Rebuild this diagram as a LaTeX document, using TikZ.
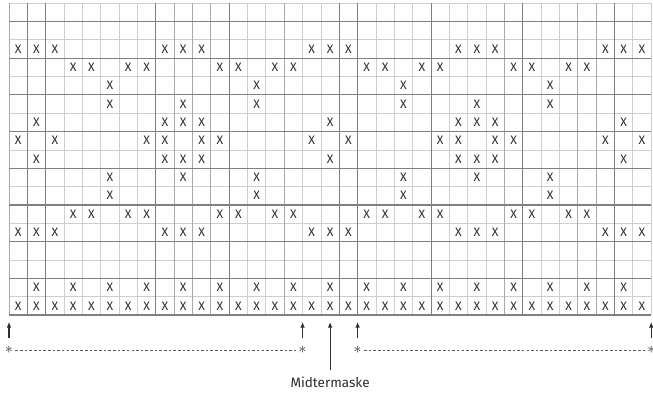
\documentclass[tikz,border=0pt]{standalone}
\usepackage{fontspec}
\setmainfont{Fira Sans}
\usepackage{tikz}
\usetikzlibrary{arrows.meta}
\definecolor{inkgray}{HTML}{2E2E2E}
\definecolor{rulegray}{HTML}{808080}
\definecolor{softgray}{HTML}{A8A8A8}
\definecolor{faintgray}{HTML}{CECECE}

\begin{document}
\begin{tikzpicture}[x=0.5cm,y=0.5cm,font=\small,
    stitch/.style={inner sep=0pt,text=inkgray,font=\fontsize{9.5}{9.5}\selectfont},
    minorline/.style={faintgray,line width=0.6pt},
    midline/.style={softgray,line width=0.6pt},
    majorline/.style={rulegray,line width=0.9pt},
    starmark/.style={inner sep=0pt,text=inkgray,font=\large},
    marker/.style={-{Latex[length=4.5pt,width=3.6pt]},line width=0.9pt,inkgray},
    repeatline/.style={inkgray!80,line width=0.6pt,dash pattern=on 2pt off 1.6pt}]
  \useasboundingbox (-0.49,-4.41) rectangle (35.1,17.17);
  % grid
  \foreach \y in {1,3,...,17}
    \draw[minorline] (0,\y) -- (35,\y);
  \foreach \x in {0,...,35}
    \draw[minorline] (\x,0) -- (\x,17);
  \foreach \x in {0,9,10,11,15,27,31,32}
    \draw[midline] (\x,0) -- (\x,17);
  \foreach \x in {1,2,8,12,18,19,23,28,33}
    \draw[majorline,line width=0.7pt] (\x,0) -- (\x,17);
  \foreach \y in {0,2,...,16}
    \draw[majorline] (0,\y) -- (35,\y);
  % stitches, row 0 at the bottom
  \foreach \r/\cols in {
      0/{0,...,34},
      1/{1,3,...,33},
      4/{0,1,2,8,9,10,16,17,18,24,25,26,32,33,34},
      5/{3,4,6,7,11,12,14,15,19,20,22,23,27,28,30,31},
      6/{5,13,21,29},
      7/{5,9,13,21,25,29},
      8/{1,8,9,10,17,24,25,26,33},
      9/{0,2,7,8,10,11,16,18,23,24,26,27,32,34},
      10/{1,8,9,10,17,24,25,26,33},
      11/{5,9,13,21,25,29},
      12/{5,13,21,29},
      13/{3,4,6,7,11,12,14,15,19,20,22,23,27,28,30,31},
      14/{0,1,2,8,9,10,16,17,18,24,25,26,32,33,34}}
    \foreach \c in \cols
      \node[stitch] (x\r-\c) at (\c+0.5,\r+0.5) {X};
  % repeat markers
  \node[starmark] (starA) at (0,-1.91) {$\ast$};
  \node[starmark] (starB) at (16,-1.91) {$\ast$};
  \node[starmark] (starC) at (19,-1.91) {$\ast$};
  \node[starmark] (starD) at (35,-1.91) {$\ast$};
  \draw[repeatline] ([xshift=5pt]starA.center) -- ([xshift=-5pt]starB.center);
  \draw[repeatline] ([xshift=5pt]starC.center) -- ([xshift=-5pt]starD.center);
  \foreach \p/\x in {A/0,B/16,C/19,D/35}{
    \coordinate (foot\p) at (\x,-1.25);
    \coordinate (tip\p) at (\x,-0.37);
    \draw[marker] (foot\p) -- (tip\p);
  }
  % centre stitch
  \node[inner sep=0pt,text=inkgray,font=\fontsize{10.5}{12}\selectfont] (midt) at (17.5,-3.68) {Midtermaske};
  \coordinate (tipM) at (17.5,-0.37);
  \draw[marker] ([yshift=5pt]midt.north) -- (tipM);
\end{tikzpicture}
\end{document}
